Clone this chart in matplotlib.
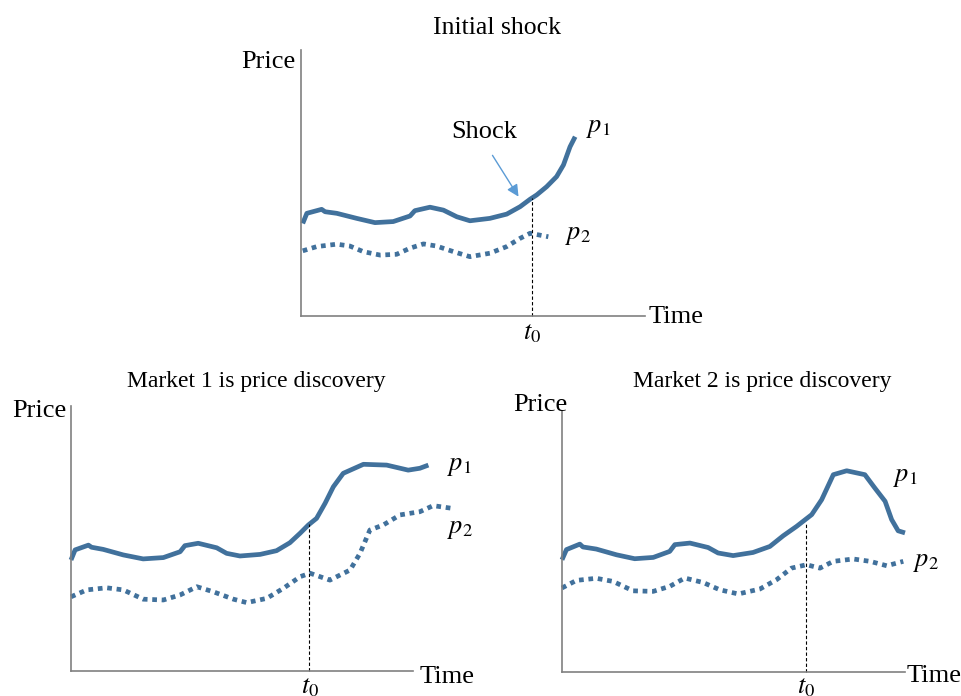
import matplotlib
matplotlib.use("Agg")
import matplotlib.pyplot as plt

W, H = 961, 696
plt.rcParams['mathtext.fontset'] = 'stix'
SERIF = 'Liberation Serif'
BLUE = '#41719C'

# ---- data (time 0-100, price 0-100) ----
top_p1_t = [0.5, 1.7, 6.0, 7.0, 10.4, 16.2, 21.5, 26.8, 31.7, 33.1, 37.5, 41.4, 45.3, 49.1, 54.9, 59.8, 63.7, 66.6, 68.5, 71.4, 74.3, 76.3, 78.2, 79.7]
top_p1_v = [34.8, 38.6, 40.1, 39.2, 38.6, 36.7, 35.1, 35.5, 37.6, 39.6, 40.9, 39.8, 37.3, 35.8, 36.7, 38.3, 41.1, 43.9, 45.5, 48.6, 52.4, 56.8, 63.6, 67.4]
top_p2_t = [0.5, 4.6, 10.4, 14.2, 18.1, 23.0, 27.8, 31.7, 35.6, 39.4, 44.3, 49.1, 54.9, 59.8, 63.7, 66.6, 71.9]
top_p2_v = [24.5, 26.1, 27.0, 26.3, 24.2, 22.9, 23.2, 25.5, 27.1, 26.3, 24.2, 22.3, 23.6, 26.1, 29.2, 31.1, 29.8]
top_t0 = 67.2
top_t0_v = 44.2

m1_p1_t = [0, 1.2, 5.1, 6.0, 9.4, 15.3, 21.1, 27.0, 31.9, 33.3, 37.2, 42.6, 45.5, 49.4, 55.3, 60.1, 64.0, 67.0, 69.4, 71.8, 74.3, 76.7, 79.6, 85.5, 92.3, 98.6, 102.0, 104.5]
m1_p1_v = [41.9, 45.7, 47.5, 46.7, 45.9, 43.8, 42.3, 42.8, 45.0, 47.3, 48.2, 46.5, 44.4, 43.4, 44.0, 45.4, 48.4, 52.0, 55.1, 57.6, 63.3, 69.5, 74.6, 78.0, 77.7, 75.8, 76.5, 77.7]
m1_p2_t = [0, 4.6, 10.4, 15.3, 21.1, 27.0, 31.9, 36.8, 41.6, 47.5, 51.4, 57.2, 62.1, 67.0, 69.9, 75.7, 81.6, 84.5, 87.4, 91.3, 96.2, 102.0, 105.9, 111.3]
m1_p2_v = [28.0, 30.6, 31.4, 30.6, 27.1, 26.8, 28.7, 31.8, 29.9, 27.1, 25.8, 27.4, 31.2, 35.6, 36.9, 34.3, 38.1, 44.4, 53.2, 55.1, 58.9, 60.1, 62.4, 61.4]
m1_t0 = 69.7
m1_t0_v = 55.5

m2_p1_t = [0, 1.3, 5.2, 6.1, 10.0, 15.9, 21.2, 26.6, 31.4, 32.9, 37.3, 42.6, 45.5, 49.9, 55.7, 60.6, 64.5, 68.4, 72.8, 75.7, 79.1, 83.0, 88.3, 91.2, 94.2, 96.1, 98.0, 100.0]
m2_p1_v = [43.0, 46.9, 49.0, 47.9, 47.1, 44.9, 43.4, 43.9, 46.2, 48.8, 49.4, 47.7, 45.6, 44.6, 45.8, 48.1, 52.2, 55.8, 60.3, 66.0, 75.6, 77.1, 75.6, 70.5, 65.4, 58.4, 54.1, 53.3]
m2_p2_t = [0, 4.2, 10.0, 14.9, 20.7, 26.6, 31.4, 35.8, 41.1, 46.0, 51.4, 57.7, 62.6, 66.9, 71.3, 75.2, 79.1, 84.9, 89.8, 94.7, 99.5]
m2_p2_v = [32.2, 35.1, 35.9, 34.7, 31.1, 30.9, 32.8, 36.0, 34.3, 31.5, 29.9, 31.8, 35.4, 39.8, 41.1, 39.8, 42.4, 43.3, 42.4, 40.7, 42.4]
m2_t0 = 71.1
m2_t0_v = 57.0

fig = plt.figure(figsize=(W / 100, H / 100), dpi=100)


def px_rect(left, bottom, width, height):
    return [left / W, 1 - bottom / H, width / W, height / H]


def ftext(x, y, s, **kw):
    kw.setdefault('fontsize', 19)
    kw.setdefault('family', SERIF)
    kw.setdefault('va', 'center')
    fig.text(x / W, 1 - y / H, s, **kw)


def panel(rect, p1t, p1v, p2t, p2v, t0, t0v):
    ax = fig.add_axes(px_rect(*rect))
    ax.set_xlim(0, 100)
    ax.set_ylim(0, 100)
    for s in ('top', 'right'):
        ax.spines[s].set_visible(False)
    for s in ('left', 'bottom'):
        ax.spines[s].set_color('#808080')
        ax.spines[s].set_linewidth(1.2)
    ax.set_xticks([])
    ax.set_yticks([])
    ax.patch.set_alpha(0)
    ax.plot(p1t, p1v, color=BLUE, lw=3.4, clip_on=False, solid_capstyle='butt')
    ax.plot(p2t, p2v, color=BLUE, lw=3.4, linestyle=(0, (1, 1)), clip_on=False)
    ax.plot([t0, t0], [0, t0v], color='black', lw=0.8, linestyle=(0, (3, 2)), clip_on=False)
    return ax


ax_top = panel((301, 316, 344, 266), top_p1_t, top_p1_v, top_p2_t, top_p2_v, top_t0, top_t0_v)
ax_m1 = panel((71, 671, 342, 265), m1_p1_t, m1_p1_v, m1_p2_t, m1_p2_v, m1_t0, m1_t0_v)
ax_m2 = panel((562, 672, 343, 261), m2_p1_t, m2_p1_v, m2_p2_t, m2_p2_v, m2_t0, m2_t0_v)

# Shock arrow
fig.add_artist(matplotlib.patches.FancyArrowPatch(
    (491 / W, 1 - 153 / H), (520 / W, 1 - 199 / H), transform=fig.transFigure,
    arrowstyle='-|>,head_length=7,head_width=3.5', color='#5B9BD5', lw=1))

# texts: top panel
ftext(497, 28, 'Initial shock', ha='center', fontsize=18.5)
ftext(268, 62, 'Price', ha='center')
ftext(649, 317, 'Time', ha='left')
ftext(532, 334, r'$t_0$', ha='center')
ftext(484, 132, 'Shock', ha='center')
ftext(586, 129, r'$p_1$', ha='left')
ftext(565, 236, r'$p_2$', ha='left')

# bottom left
ftext(256, 381, 'Market 1 is price discovery', ha='center', fontsize=17)
ftext(39, 411, 'Price', ha='center')
ftext(420, 677, 'Time', ha='left')
ftext(310, 688, r'$t_0$', ha='center')
ftext(447, 467, r'$p_1$', ha='left')
ftext(447, 530, r'$p_2$', ha='left')

# bottom right
ftext(762, 381, 'Market 2 is price discovery', ha='center', fontsize=17)
ftext(540, 405, 'Price', ha='center')
ftext(907, 676, 'Time', ha='left')
ftext(806, 688, r'$t_0$', ha='center')
ftext(893, 478, r'$p_1$', ha='left')
ftext(913, 563, r'$p_2$', ha='left')

fig.savefig('out.png', dpi=100, facecolor='white')
